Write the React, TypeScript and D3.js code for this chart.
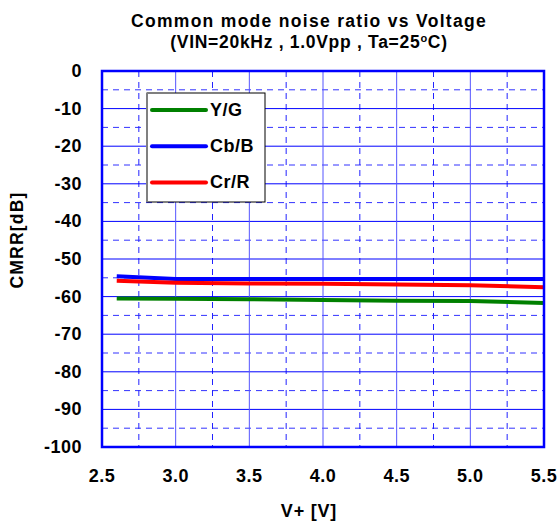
import React from "react";
import * as d3 from "d3";

const voltages = [2.6, 3.0, 3.5, 4.0, 4.5, 5.0, 5.5];
const ygValues = [-60.5, -60.6, -60.7, -60.9, -61.1, -61.2, -61.7];
const cbValues = [-54.6, -55.3, -55.3, -55.3, -55.3, -55.3, -55.3];
const crValues = [-55.8, -56.3, -56.5, -56.6, -56.8, -57.0, -57.5];
const xTicks = [2.5, 3.0, 3.5, 4.0, 4.5, 5.0, 5.5];
const yTicks = [0, -10, -20, -30, -40, -50, -60, -70, -80, -90, -100];
const seriesNames = ["Y/G", "Cb/B", "Cr/R"];
const seriesColors = ["#008000", "#0000ff", "#ff0000"];

export default function App() {
  const W = 558, H = 524;
  const left = 102, right = 544, top = 71, bottom = 447;
  const x = d3.scaleLinear().domain([2.5, 5.5]).range([left, right]);
  const y = d3.scaleLinear().domain([-100, 0]).range([bottom, top]);
  const series = [ygValues, cbValues, crValues];
  const line = d3.line<number>().x((_, i) => x(voltages[i])).y((d) => y(d));
  const minorX = d3.range(2.75, 5.5, 0.5);
  const minorY = d3.range(-95, 0, 10);
  const font = "'Liberation Sans', Arial, sans-serif";
  return (
    <svg width={W} height={H} style={{ position: "absolute", left: 0, top: 0 }} fontFamily={font} fontWeight="bold">
      <rect width={W} height={H} fill="#fff" />
      <text x={309} y={27} textAnchor="middle" fontSize={17.5} letterSpacing={1.3}>Common mode noise ratio vs Voltage</text>
      <text x={309} y={48} textAnchor="middle" fontSize={17.5} letterSpacing={0.7}>
        (VIN=20kHz , 1.0Vpp , Ta=25<tspan fontSize={11} dy={-6}>o</tspan><tspan dy={6}>C)</tspan>
      </text>
      {minorY.map((v) => (
        <line key={"my" + v} x1={left} x2={right} y1={y(v)} y2={y(v)} stroke="#3333ff" strokeDasharray="6,5" strokeWidth={1} />
      ))}
      {minorX.map((v) => (
        <line key={"mx" + v} x1={x(v)} x2={x(v)} y1={top} y2={bottom} stroke="#2222ff" strokeDasharray="6,5" strokeWidth={1} />
      ))}
      {yTicks.map((v) => (
        <line key={"gy" + v} x1={left} x2={right} y1={y(v)} y2={y(v)} stroke="#0000ff" strokeWidth={1} />
      ))}
      {xTicks.map((v) => (
        <line key={"gx" + v} x1={x(v)} x2={x(v)} y1={top} y2={bottom} stroke="#5555ff" strokeWidth={1} />
      ))}
      {series.map((s, i) => (
        <path key={"s" + i} d={line(s) || ""} fill="none" stroke={seriesColors[i]} strokeWidth={4} />
      ))}
      <rect x={left} y={top} width={right - left} height={bottom - top} fill="none" stroke="#0000ff" strokeWidth={2.5} />
      <g>
        <rect x={147} y={93} width={118} height={109} fill="#fff" stroke="#000" strokeWidth={1} />
        <line x1={147} x2={147} y1={93} y2={202} stroke="#808080" strokeWidth={2} />
        {seriesNames.map((n, i) => (
          <g key={n}>
            <line x1={152} x2={206} y1={110 + i * 36.2} y2={110 + i * 36.2} stroke={seriesColors[i]} strokeWidth={4} strokeLinecap="round" />
            <text x={210} y={116 + i * 36.2} fontSize={18} letterSpacing={0.5}>{n}</text>
          </g>
        ))}
      </g>
      {yTicks.map((v) => (
        <text key={"yl" + v} x={82} y={y(v) + 6} textAnchor="end" fontSize={18} letterSpacing={0.5}>{v}</text>
      ))}
      {xTicks.map((v) => (
        <text key={"xl" + v} x={x(v)} y={482} textAnchor="middle" fontSize={18} letterSpacing={0.5}>{v.toFixed(1)}</text>
      ))}
      <text x={309} y={517} textAnchor="middle" fontSize={18} letterSpacing={0.8}>V+ [V]</text>
      <text transform={`translate(23,240) rotate(-90)`} textAnchor="middle" fontSize={17.5} letterSpacing={1.2}>CMRR[dB]</text>
    </svg>
  );
}
